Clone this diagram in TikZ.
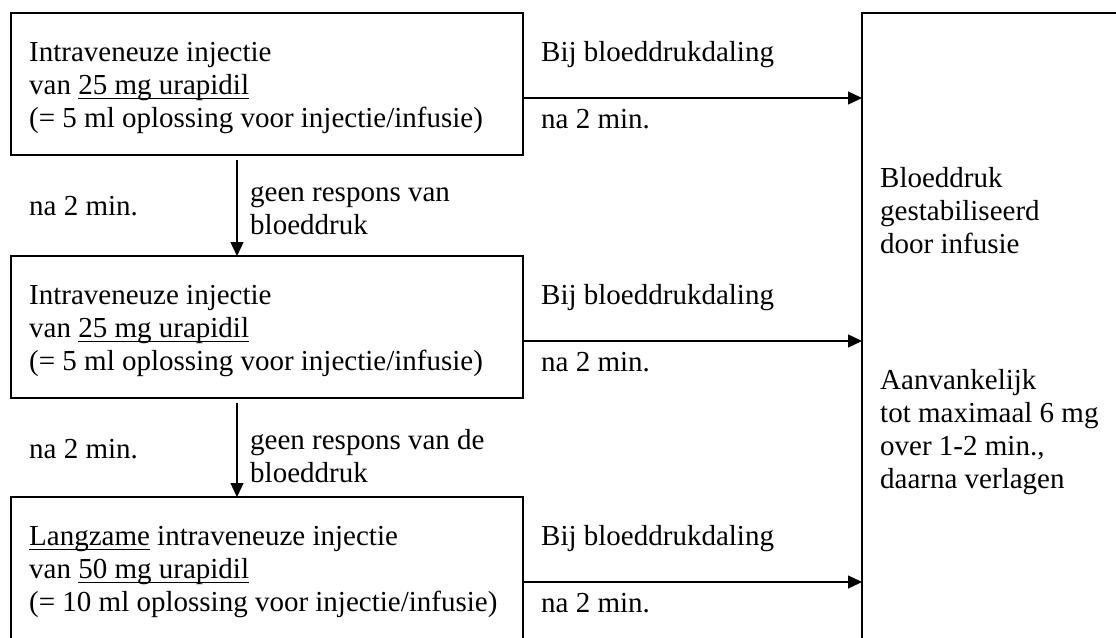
\documentclass[tikz,border=0pt]{standalone}
\usepackage{fontspec}
\setmainfont{Liberation Serif}
\usetikzlibrary{arrows.meta}

\newsavebox{\undlbox}
\newcommand{\undl}[1]{\sbox{\undlbox}{#1}\rlap{\rule[-4.5pt]{\wd\undlbox}{1.3pt}}\usebox{\undlbox}}

\tikzset{
  box/.style={draw, line width=1.8pt, anchor=north west, outer sep=0pt,
    minimum width=512pt, minimum height=142pt},
  flow/.style={-{Triangle[length=14pt,width=13pt]}, line width=1.4pt},
  lbl/.style={anchor=north west, align=left, inner sep=0pt}
}

\begin{document}
\begin{tikzpicture}[x=1pt, y=-1pt, font=\fontsize{29}{33}\selectfont]
    \path [use as bounding box, fill=white] (0,0) rectangle (1116,637);
    \clip (0,0) rectangle (1116,637);

    % the three injection steps
    \node [box] (inj1) at (11,13) {};
    \node [box] (inj2) at (11,256) {};
    \node [box] (inj3) at (11,497) {};
    \node [lbl] (inj1txt) at ([xshift=18pt,yshift=-29.5pt]inj1.north west) {Intraveneuze injectie\\ van \undl{25 mg urapidil}\\ (= 5 ml oplossing voor injectie/infusie)};
    \node [lbl] (inj2txt) at ([xshift=18pt,yshift=-29.5pt]inj2.north west) {Intraveneuze injectie\\ van \undl{25 mg urapidil}\\ (= 5 ml oplossing voor injectie/infusie)};
    \node [lbl] (inj3txt) at ([xshift=18pt,yshift=-29.5pt]inj3.north west) {\undl{Langzame} intraveneuze injectie\\ van \undl{50 mg urapidil}\\ (= 10 ml oplossing voor injectie/infusie)};

    % result box on the right
    \node [draw, line width=1.8pt, anchor=north west, outer sep=0pt, minimum width=300pt, minimum height=650pt] (stab) at (862,13) {};
    \node [lbl] (stabtxt) at (880,167) {Bloeddruk\\ gestabiliseerd\\ door infusie};
    \node [lbl] (dosetxt) at (880,369) {Aanvankelijk\\ tot maximaal 6 mg\\ over 1-2 min.,\\ daarna verlagen};

    \foreach \b in {inj1,inj2,inj3} {
        \draw [flow] ([yshift=-14pt]\b.east) -- ([yshift=-14pt]\b.east -| stab.west);
        \node [anchor=base west, inner sep=0pt] (drop-\b) at ([xshift=18pt,yshift=-48pt]\b.north east) {Bij bloeddrukdaling};
        \node [anchor=base west, inner sep=0pt] (after-\b) at ([xshift=18pt,yshift=-115pt]\b.north east) {na 2 min.};
    }

    \foreach \a/\b/\t in {inj1/inj2/{geen respons van\\ bloeddruk}, inj2/inj3/{geen respons van de\\ bloeddruk}} {
        \draw [flow, shorten <=5pt] ([xshift=-30pt]\a.south) -- ([xshift=-30pt]\a.south |- \b.north);
        \node [lbl] (wait-\a) at ([xshift=18pt,yshift=-41pt]\a.south west) {na 2 min.};
        \node [lbl] (nores-\a) at ([xshift=-17pt,yshift=-31pt]\a.south) {\t};
    }
\end{tikzpicture}
\end{document}
